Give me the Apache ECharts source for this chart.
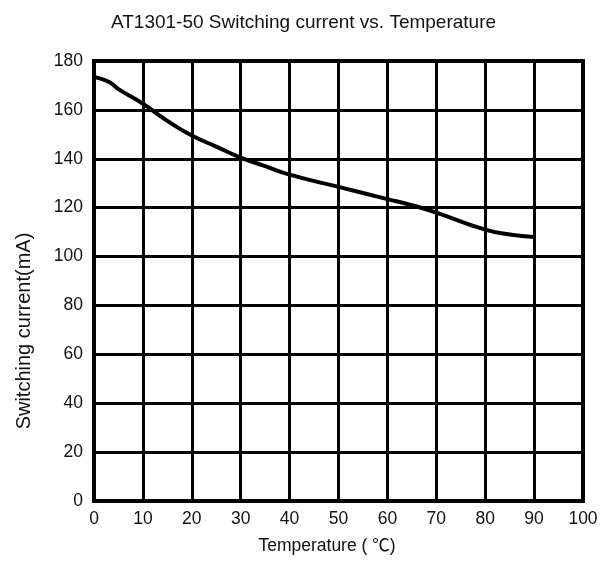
<!DOCTYPE html>
<html><head><meta charset="utf-8">
<script src="https://cdn.jsdelivr.net/npm/echarts@6/dist/echarts.min.js"></script>
<style>html,body{margin:0;padding:0;background:#fff}#c{width:607px;height:562px}</style>
</head><body><div id="c"></div>
<script>
const titleText = 'AT1301-50 Switching current vs. Temperature';
const xName = 'Temperature ( \u2103)';
const yName = 'Switching current(mA)';
const temperature = [0, 3, 5, 10, 15, 20, 25, 30, 35, 40, 50, 60, 65, 70, 80, 85, 90];
const current = [173.5, 171.5, 168.5, 162.5, 155.5, 149.5, 145, 140.5, 137, 133.5, 128.5, 123.5, 121, 118, 111, 109, 108];

const chart = echarts.init(document.getElementById('c'));
const font = 'Liberation Sans, Arial, sans-serif';
chart.setOption({
  animation: false,
  backgroundColor: '#fff',
  title: { text: titleText, left: 'center', top: 8, padding: [5, 5, 5, 22], textStyle: { fontFamily: font, fontSize: 19, fontWeight: 'normal', color: '#111' } },
  grid: { left: 94, right: 24, top: 61, bottom: 61, show: true, borderColor: '#000', borderWidth: 4, backgroundColor: 'transparent' },
  xAxis: {
    type: 'value', min: 0, max: 100, interval: 10,
    name: xName, nameLocation: 'middle', nameGap: 36,
    nameTextStyle: { fontFamily: 'Liberation Sans, "Noto Sans CJK SC", sans-serif', fontSize: 17.5, color: '#111', padding: [0, 23, 0, 0] },
    axisLine: { show: false }, axisTick: { show: false },
    axisLabel: { fontFamily: font, fontSize: 17.5, color: '#111', margin: 9 },
    splitLine: { show: true, lineStyle: { color: '#000', width: 3 } }
  },
  yAxis: {
    type: 'value', min: 0, max: 180, interval: 20,
    name: yName, nameLocation: 'middle', nameGap: 60,
    nameTextStyle: { fontFamily: font, fontSize: 20, color: '#111', padding: [0, 100, 0, 0] },
    axisLine: { show: false }, axisTick: { show: false },
    axisLabel: { fontFamily: font, fontSize: 17.5, color: '#111', margin: 11 },
    splitLine: { show: true, lineStyle: { color: '#000', width: 3 } }
  },
  series: [{
    type: 'line', smooth: true, showSymbol: false, symbol: 'none',
    data: temperature.map((t, i) => [t, current[i]]),
    lineStyle: { color: '#000', width: 4 }
  }]
});
</script></body></html>
